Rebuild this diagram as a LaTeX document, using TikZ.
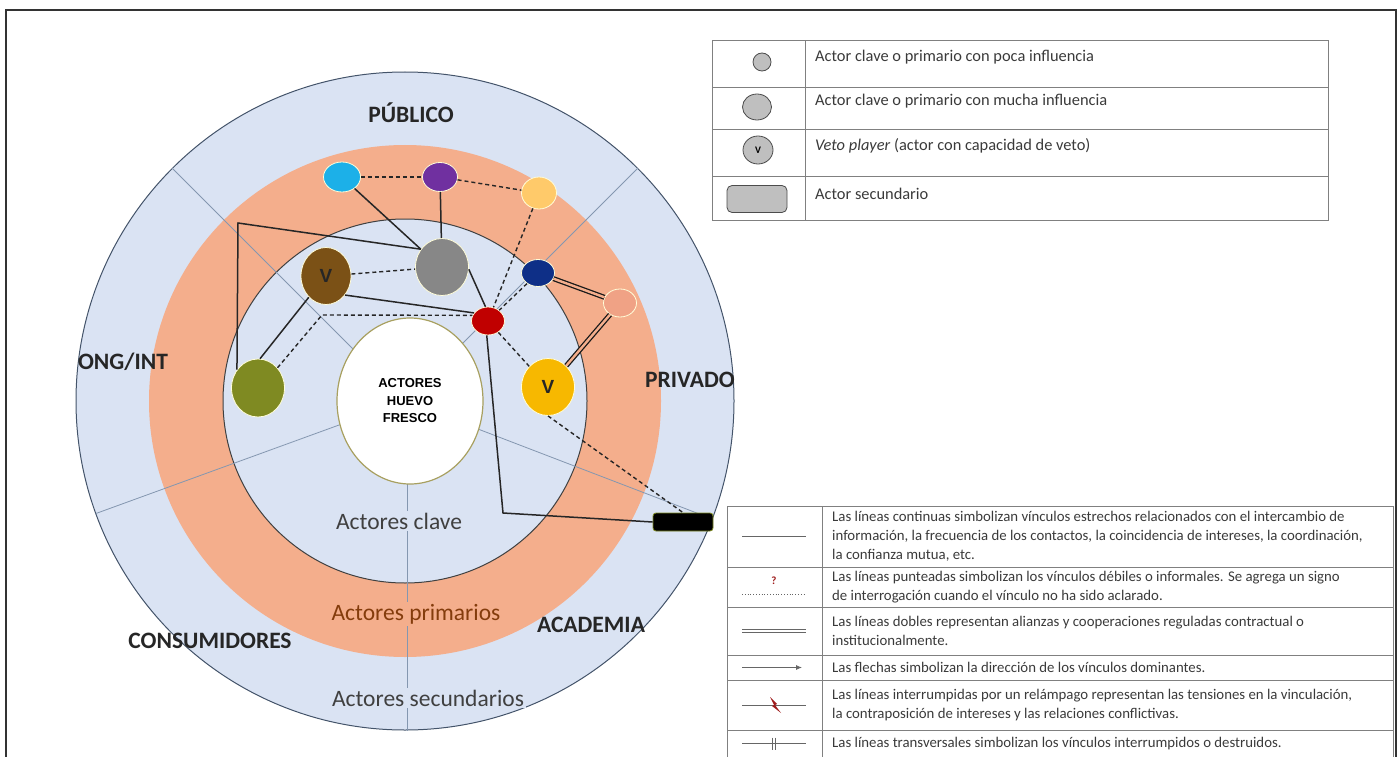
\documentclass[tikz,border=0pt]{standalone}
\usepackage{fontspec}
\setmainfont{Carlito}
\newfontfamily\arialfont{Liberation Sans}
\usetikzlibrary{shapes.geometric,arrows.meta}

\definecolor{ringblue}{HTML}{DAE3F3}
\definecolor{ringsalmon}{HTML}{F4AE8C}
\definecolor{rimgrey}{HTML}{44546A}
\definecolor{spokegrey}{HTML}{8497B0}
\definecolor{primbrown}{HTML}{843C0C}
\definecolor{keytext}{HTML}{3A3A3A}
\definecolor{gridgrey}{HTML}{808080}
\definecolor{keyfill}{HTML}{BFBFBF}
\definecolor{eggrim}{HTML}{A8A060}
\definecolor{qred}{HTML}{9E1B1B}
\definecolor{c-sky}{HTML}{1CB0E8}
\definecolor{c-purple}{HTML}{7030A0}
\definecolor{c-peach}{HTML}{FFCA6A}
\definecolor{c-grey}{HTML}{878787}
\definecolor{c-brown}{HTML}{7B5116}
\definecolor{c-navy}{HTML}{0E2F87}
\definecolor{c-salmon}{HTML}{F0A285}
\definecolor{c-red}{HTML}{C00000}
\definecolor{c-olive}{HTML}{7F8A22}
\definecolor{c-gold}{HTML}{F7B800}

\begin{document}
\begin{tikzpicture}[x=1pt,y=1pt,
  actor/.style={ellipse, inner sep=0pt, draw=white!85!yellow, line width=0.8pt,
    font=\arialfont\bfseries\fontsize{19}{19}\selectfont, text=black!85},
  tie/.style={line width=1.5pt, black!85},
  weak/.style={line width=1.4pt, black!85, dash pattern=on 4pt off 3pt},
  alliance/.style={line width=1.3pt, black!90, double=ringsalmon, double distance=2.4pt},
  sector/.style={font=\bfseries\fontsize{23.5}{23.5}\selectfont, text=black!85},
  zone/.style={font=\fontsize{23.5}{23.5}\selectfont, text=black!75, inner sep=2pt},
  grid/.style={gridgrey, line width=0.9pt},
  keydot/.style={ellipse, fill=keyfill, draw=black!70, line width=0.8pt, inner sep=0pt},
  keynote/.style={anchor=west, inner sep=0pt, text=keytext, align=left,
    font=\fontsize{14.8}{19}\selectfont},
  keytop/.style={keynote, font=\fontsize{16.4}{19}\selectfont},
  sample/.style={black!60, line width=0.8pt}]

\useasboundingbox (0,0) rectangle (1400,-757);
\draw[line width=1.2pt, black!80] (6,-760) -- (6,-10) -- (1396,-10) -- (1396,-760);

% rings
\coordinate (hub) at (405,-401);
\filldraw[fill=ringblue, draw=rimgrey, line width=1pt] (hub) circle (329);
\fill[ringsalmon] (hub) circle (256);
\filldraw[fill=ringblue, draw=black!75, line width=1pt] (hub) circle (182);
\foreach \ang in {45,135,200,339}
  \draw[spokegrey, line width=0.8pt] (hub) -- ++(\ang:329);
\draw[spokegrey, line width=0.8pt] (407,-470) -- (407,-731);

\node[ellipse, fill=white, draw=eggrim, line width=1.2pt, minimum width=146, minimum height=166,
  align=center, font=\arialfont\bfseries\fontsize{13}{17.5}\selectfont] (egg) at (410,-401)
  {ACTORES\\HUEVO\\FRESCO};

% sectors and zones
\node[sector] (publico) at (411,-113) {PÚBLICO};
\node[sector] (ongint) at (123,-362) {ONG/INT};
\node[sector] (privado) at (690,-380) {PRIVADO};
\node[sector] (consum) at (210,-641) {CONSUMIDORES};
\node[sector] (academia) at (591,-625) {ACADEMIA};
\node[zone, fill=ringblue] (clave) at (399,-521) {Actores clave};
\node[zone, fill=ringsalmon, text=primbrown] (primarios) at (416,-614) {Actores primarios};
\node[zone, fill=ringblue] (secund) at (428,-698) {Actores secundarios};

% actors
\node[actor, fill=c-sky, minimum width=37, minimum height=30] (skyact) at (342,-177) {};
\node[actor, fill=c-purple, minimum width=35, minimum height=29] (purpleact) at (440,-177) {};
\node[actor, fill=c-peach, minimum width=35, minimum height=32] (peachact) at (539,-193) {};
\node[actor, fill=c-grey, minimum width=53, minimum height=57] (greyact) at (442,-267) {};
\node[actor, fill=c-brown, minimum width=50, minimum height=57] (brownveto) at (326,-276) {V};
\node[actor, fill=c-navy, minimum width=33, minimum height=27] (navyact) at (538,-273) {};
\node[actor, fill=c-salmon, minimum width=33, minimum height=28] (salmonact) at (620,-303) {};
\node[actor, fill=c-red, minimum width=33, minimum height=28] (redact) at (488,-321) {};
\node[actor, fill=c-olive, minimum width=53, minimum height=58] (oliveact) at (258,-388) {};
\node[actor, fill=c-gold, minimum width=53, minimum height=57] (goldveto) at (548,-387) {V};
\node[rectangle, rounded corners=3pt, fill=black, draw=c-olive, line width=0.8pt,
  minimum width=60, minimum height=18, inner sep=0pt] (secbox) at (683,-522) {};

% links
\coordinate (ngobend) at (238,-223);
\coordinate (olivebend) at (322,-315);
\coordinate (redbend) at (503,-513);
\draw[tie] (skyact) -- (greyact.140);
\draw[tie] (purpleact) -- (greyact);
\draw[tie] (oliveact.139) -- (ngobend) -- (greyact.140);
\draw[tie] (brownveto.231) -- (oliveact.86);
\draw[tie] (brownveto.315) -- (redact.150);
\draw[tie] (greyact.-5) -- (redact.100);
\draw[tie] (redact.265) -- (redbend) -- (secbox.west);
\draw[alliance] (navyact) -- (salmonact);
\draw[alliance] (salmonact) -- (goldveto);
\draw[weak] (skyact) -- (purpleact);
\draw[weak] (purpleact) -- (peachact);
\draw[weak] (peachact) -- (redact);
\draw[weak] (brownveto) -- (greyact);
\draw[weak] (oliveact.46) -- (olivebend) -- (redact.160);
\draw[weak] (navyact) -- (redact);
\draw[weak] (redact) -- (goldveto);
\draw[weak] (goldveto.south) -- (secbox.north);

% actor key
\draw[grid] (712.7,-40.7) rectangle (1328,-220.7);
\foreach \yy in {87.3,129.7,176}
  \draw[grid] (712.7,-\yy) -- (1328,-\yy);
\draw[grid] (805,-40.7) -- (805,-220.7);
\node[keydot, minimum width=18, minimum height=18] (keypoca) at (762,-62) {};
\node[keydot, minimum width=29, minimum height=26] (keymucha) at (757,-107) {};
\node[keydot, minimum width=30, minimum height=28, font=\bfseries\fontsize{10}{10}\selectfont] (keyveto) at (758,-150) {V};
\node[keydot, rectangle, rounded corners=5pt, minimum width=60, minimum height=27] (keysec) at (757,-199) {};
\node[keytop] (notepoca) at (815,-57) {Actor clave o primario con poca influencia};
\node[keytop] (notemucha) at (815,-101) {Actor clave o primario con mucha influencia};
\node[keytop] (noteveto) at (815,-146) {\textit{Veto player} (actor con capacidad de veto)};
\node[keytop] (notesec) at (815,-194) {Actor secundario};

% link key
\draw[grid] (727,-757) -- (727,-506) -- (1393,-506) -- (1393,-757);
\foreach \yy in {567,607,655,680,730}
  \draw[grid] (727,-\yy) -- (1393,-\yy);
\draw[grid] (822,-506) -- (822,-757);
\draw[sample] (742,-536.5) -- (806,-536.5);
\node[font=\bfseries\fontsize{11}{11}\selectfont, text=qred, inner sep=0pt] (qmark) at (774,-581) {?};
\draw[sample, dotted] (742,-594) -- (806,-594);
\draw[sample, line width=0.6pt, double, double distance=2.5pt] (742,-631) -- (806,-631);
\draw[sample, -{Latex[length=6pt,width=5pt]}] (742,-667.5) -- (802,-667.5);
\draw[sample] (742,-705) -- (806,-705);
\fill[qred] (770,-697) -- (777,-704) -- (775,-705) -- (781,-713) -- (772,-706) -- (774,-705) -- cycle;
\draw[sample] (742,-743.5) -- (806,-743.5);
\draw[sample] (772,-737.5) -- (772,-749.5) (775,-737.5) -- (775,-749.5);
\node[keynote] (notesolid) at (832,-536.5) {Las líneas continuas simbolizan vínculos estrechos relacionados con el intercambio de\\información, la frecuencia de los contactos, la coincidencia de intereses, la coordinación,\\la confianza mutua, etc.};
\node[keynote] (notedash) at (832,-587) {Las líneas punteadas simbolizan los vínculos débiles o informales. Se agrega un signo\\de interrogación cuando el vínculo no ha sido aclarado.};
\node[keynote] (notedouble) at (832,-631) {Las líneas dobles representan alianzas y cooperaciones reguladas contractual o\\institucionalmente.};
\node[keynote] (notearrow) at (832,-667.5) {Las flechas simbolizan la dirección de los vínculos dominantes.};
\node[keynote] (notebolt) at (832,-705) {Las líneas interrumpidas por un relámpago representan las tensiones en la vinculación,\\la contraposición de intereses y las relaciones conflictivas.};
\node[keynote] (notecut) at (832,-743.5) {Las líneas transversales simbolizan los vínculos interrumpidos o destruidos.};
\end{tikzpicture}
\end{document}
